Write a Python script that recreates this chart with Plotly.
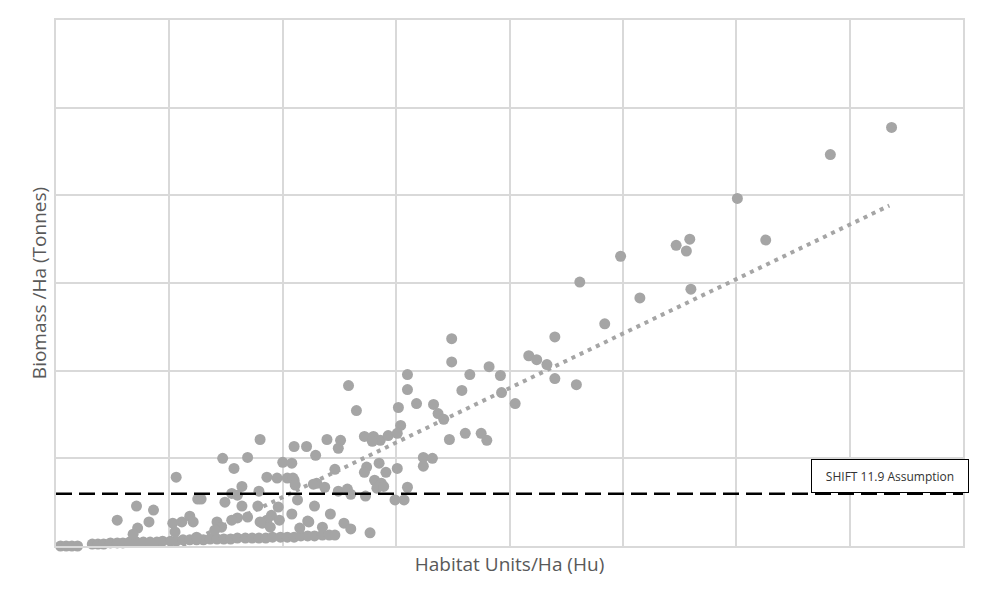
import plotly.graph_objects as go

# Habitat units per hectare (Hu) and biomass per hectare (tonnes)
hu_values = [
    0.04, 0.09, 0.14, 0.19, 0.32, 0.37, 0.42, 0.48, 0.54, 0.59, 0.65, 0.71, 0.77, 0.83,
    0.89, 0.94, 1.01, 1.06, 1.12, 1.18, 1.24, 1.30, 1.36, 1.42, 1.48, 1.54, 1.60, 1.67,
    1.73, 1.79, 1.85, 1.91, 1.98, 2.04, 2.10, 2.16, 2.22, 2.28, 2.35, 2.41, 2.46,
    0.54, 0.71, 0.86, 0.82, 0.72, 0.68, 1.06, 1.25, 1.03, 1.11, 1.18, 1.21, 1.05, 1.24,
    1.80, 1.47, 1.69, 1.57, 2.10, 2.21, 2.29, 2.39, 2.51, 2.49, 2.00, 2.08, 1.86, 1.95,
    2.04, 2.10, 1.64, 2.30, 1.55, 1.79, 1.49, 1.60, 2.13, 1.28, 1.64, 1.78, 1.96, 2.08,
    2.28, 1.69, 1.60, 1.90, 1.86, 1.82, 1.42, 1.46, 1.55, 1.40, 2.22, 2.35, 2.15, 2.42,
    2.54, 2.60, 2.77, 2.58, 2.65, 3.10, 3.10, 3.02, 3.18, 3.04, 2.72, 2.80, 2.86, 2.93,
    3.01, 2.79, 2.46, 2.74, 2.72, 2.85, 2.91, 3.01, 2.09, 2.11, 2.27, 2.37, 2.49, 2.57,
    2.60, 2.81, 2.87, 2.83, 2.89, 2.73, 2.99, 3.07, 3.10, 2.23, 3.49, 3.49, 3.65, 3.82,
    3.92, 3.58, 3.93, 4.05, 3.33, 3.37, 3.42, 3.47, 3.61, 3.75, 3.80, 3.24, 3.32, 3.24,
    4.17, 4.24, 4.33, 4.40, 4.40, 7.37, 6.83, 6.01, 5.59, 5.47, 5.56, 6.26, 4.98, 4.62,
    5.15, 5.60, 4.84, 4.59, 1.97, 1.80, 1.89,
]
biomass_values = [
    0.0, 0.0, 0.0, 0.0, 0.45, 0.45, 0.45, 0.7, 0.7, 0.7, 0.9, 0.9, 0.9, 0.9,
    0.9, 1.1, 1.1, 1.1, 1.4, 1.4, 1.4, 1.4, 1.6, 1.6, 1.6, 1.6, 1.8, 1.8,
    1.8, 1.8, 1.8, 2.0, 2.0, 2.0, 2.0, 2.3, 2.3, 2.3, 2.5, 2.5, 2.5,
    5.9, 9.1, 8.2, 5.5, 4.1, 2.7, 15.7, 10.7, 5.2, 5.5, 6.8, 5.5, 3.2, 2.0,
    24.3, 20.0, 20.2, 17.7, 22.7, 22.7, 20.7, 24.3, 24.1, 22.3, 19.1, 18.9, 15.7, 15.5,
    15.5, 15.0, 13.6, 14.3, 12.0, 12.5, 10.0, 11.6, 10.5, 10.7, 9.1, 9.1, 8.9, 7.3,
    9.1, 6.6, 6.4, 7.0, 5.9, 5.2, 5.5, 4.3, 5.9, 3.6, 5.7, 4.3, 4.1, 7.3,
    5.2, 3.9, 3.0, 36.6, 30.9, 39.1, 35.7, 31.6, 32.5, 27.5, 25.0, 25.0, 24.1, 25.2,
    25.7, 23.9, 17.5, 18.0, 16.8, 18.9, 16.8, 17.7, 15.5, 13.9, 14.1, 13.4, 12.5, 13.0,
    11.8, 15.0, 14.3, 13.2, 13.6, 11.4, 10.5, 10.5, 13.4, 5.5, 47.3, 42.0, 39.1, 40.9,
    38.9, 35.5, 35.0, 32.5, 32.3, 30.2, 28.9, 24.3, 25.7, 25.7, 24.1, 20.2, 20.0, 18.2,
    43.4, 42.5, 41.4, 38.2, 47.7, 95.5, 89.3, 79.3, 70.0, 68.6, 67.3, 69.8, 66.1, 60.2,
    56.6, 58.6, 50.7, 36.8, 5.9, 5.5, 4.3,
]

# linear trendline as shown on the chart
trend_slope = 12.43
trend_intercept = -13.7
shift_assumption = 11.9

grey = "#a5a5a5"
grid = "#d9d9d9"

fig = go.Figure()

x_lo, x_hi = min(hu_values), 7.35
fig.add_trace(go.Scatter(
    x=[x_lo, x_hi],
    y=[trend_slope * x_lo + trend_intercept, trend_slope * x_hi + trend_intercept],
    mode="lines", line=dict(color=grey, width=4, dash="4px,5px"),
    hoverinfo="skip", showlegend=False))

fig.add_trace(go.Scatter(
    x=hu_values, y=biomass_values, mode="markers",
    marker=dict(size=11, color=grey, line=dict(width=0)),
    cliponaxis=False, showlegend=False))

fig.add_shape(type="line", xref="paper", x0=0, x1=1, yref="y",
              y0=shift_assumption, y1=shift_assumption,
              line=dict(color="black", width=2.5, dash="16px,7px"))

fig.add_annotation(x=7.36, y=16.0, xref="x", yref="y", showarrow=False,
                   text="SHIFT 11.9 Assumption", width=152, height=28,
                   bgcolor="white", bordercolor="black", borderwidth=1, borderpad=2,
                   font=dict(size=12, color="#333333"))

fig.update_xaxes(range=[0, 8], dtick=1, showticklabels=False, ticks="",
                 showgrid=True, gridcolor=grid, gridwidth=1.5,
                 zeroline=False, showline=True, linecolor=grid, linewidth=1.5, mirror=True,
                 title=dict(text="Habitat Units/Ha (Hu)", standoff=11,
                            font=dict(size=19, color="#595959")))
fig.update_yaxes(range=[0, 120], dtick=20, showticklabels=False, ticks="",
                 showgrid=True, gridcolor=grid, gridwidth=1.5,
                 zeroline=False, showline=True, linecolor=grid, linewidth=1.5, mirror=True,
                 title=dict(text="Biomass /Ha (Tonnes)", standoff=3,
                            font=dict(size=19, color="#595959")))

# the page adds an 8px body margin, so the figure is shifted by that much
fig.update_layout(
    width=977, height=584,
    margin=dict(l=48, r=22, t=10, b=46),
    plot_bgcolor="white", paper_bgcolor="white",
    font=dict(family="Open Sans, Noto Sans, sans-serif"),
    showlegend=False,
)

fig.write_html("out.html")
